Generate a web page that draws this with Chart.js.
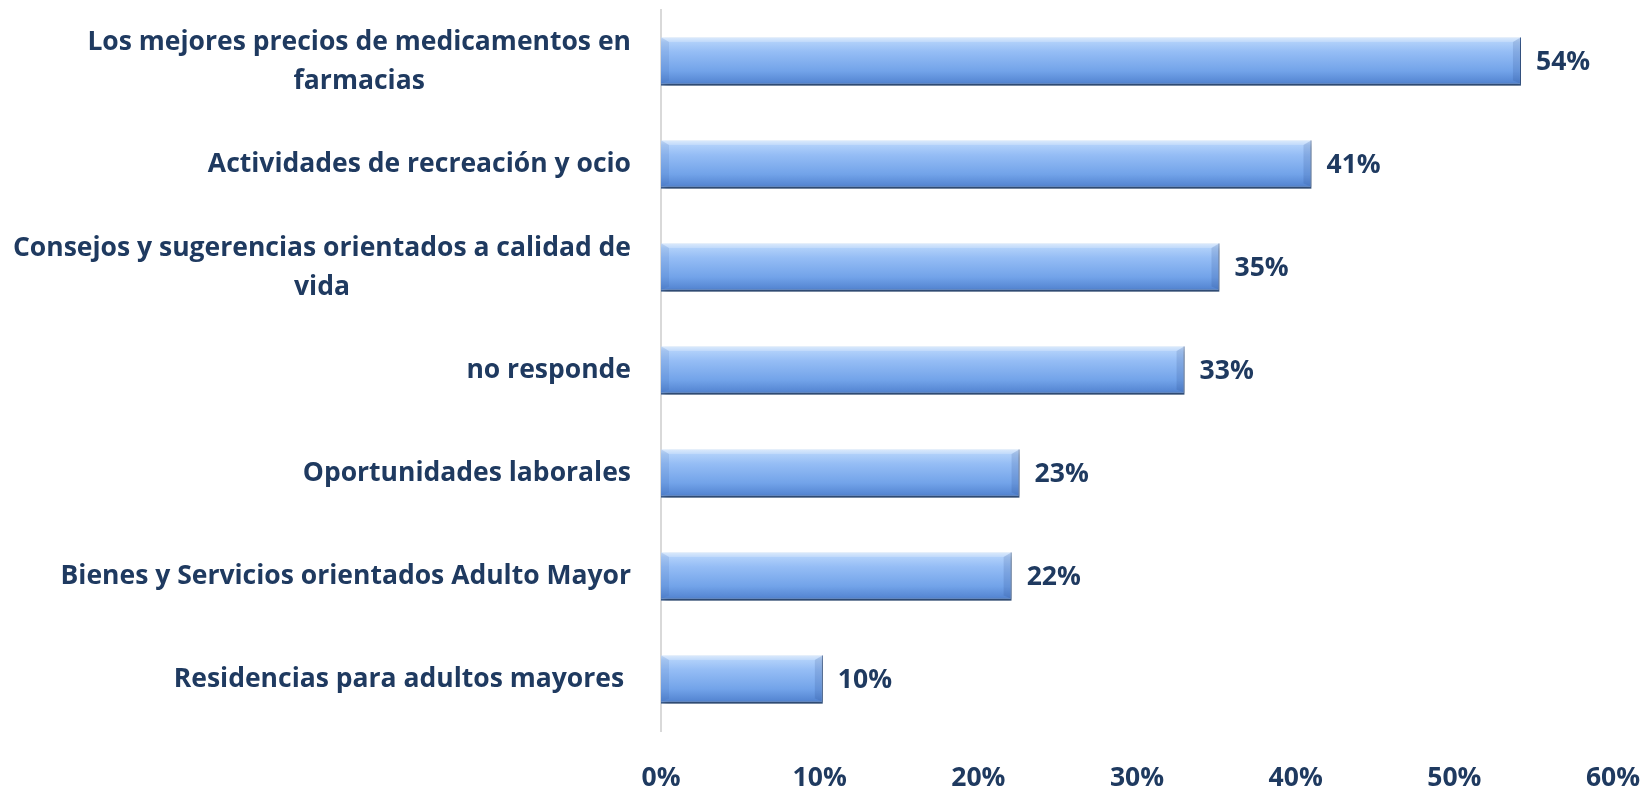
<!DOCTYPE html>
<html>
<head>
<meta charset="utf-8">
<script src="https://cdn.jsdelivr.net/npm/chart.js@4"></script>
<style>
  html, body { margin: 0; padding: 0; background: #fff; }
  #wrap { width: 1646px; height: 787px; }
</style>
</head>
<body>
<div id="wrap"><canvas id="myChart" width="1646" height="787"></canvas></div>
<script>
// categories (top to bottom), values in %
const categories = [
    ["Los mejores precios de medicamentos en", "farmacias"],
    ["Actividades de recreación y ocio"],
    ["Consejos y sugerencias orientados a calidad de", "vida"],
    ["no responde"],
    ["Oportunidades laborales"],
    ["Bienes y Servicios orientados Adulto Mayor"],
    ["Residencias para adultos mayores "]
];
const values = [54.2, 41.0, 35.2, 33.0, 22.6, 22.1, 10.2];
const xTicks = [0, 10, 20, 30, 40, 50, 60];

const textColor = '#1f3a60';
const fontFamily = "'Open Sans', sans-serif";
const fontSize = 26.5;
const barPct = 0.47;

// bar fill: vertical gradient, made per bar from the y scale
function barFill(context) {
    const chart = context.chart;
    const y = chart.scales.y;
    if (!y || !chart.chartArea || context.dataIndex === undefined) {
        return '#8db6f0';
    }
    const c = y.getPixelForValue(context.dataIndex);
    const half = (y.height / categories.length) * barPct / 2;
    const g = chart.ctx.createLinearGradient(0, c - half, 0, c + half);
    g.addColorStop(0, '#d3e5fc');
    g.addColorStop(0.1, '#b0d0fa');
    g.addColorStop(0.3, '#95bdf5');
    g.addColorStop(0.7, '#72a3e9');
    g.addColorStop(0.92, '#5788d4');
    g.addColorStop(1, '#4a76b8');
    return g;
}

// shadow under the bars
const barShadow = {
    id: 'barShadow',
    beforeDatasetsDraw(chart) {
        const ctx = chart.ctx;
        ctx.save();
        ctx.shadowColor = 'rgba(0,0,0,0.3)';
        ctx.shadowBlur = 6;
        ctx.shadowOffsetX = 2;
        ctx.shadowOffsetY = 4;
    },
    afterDatasetsDraw(chart) {
        chart.ctx.restore();
    }
};

// light bevel on the bar ends
const barBevel = {
    id: 'barBevel',
    afterDatasetsDraw(chart) {
        const ctx = chart.ctx;
        const meta = chart.getDatasetMeta(0);
        const b = 8;
        function face(pts, color) {
            ctx.beginPath();
            ctx.moveTo(pts[0][0], pts[0][1]);
            for (let i = 1; i < pts.length; i++) ctx.lineTo(pts[i][0], pts[i][1]);
            ctx.closePath();
            ctx.fillStyle = color;
            ctx.fill();
        }
        ctx.save();
        meta.data.forEach(function (bar) {
            const L = Math.min(bar.base, bar.x), R = Math.max(bar.base, bar.x);
            const T = bar.y - bar.height / 2, B = bar.y + bar.height / 2 - 2;
            face([[L, T], [R, T], [R - b, T + b * 0.6], [L + b, T + b * 0.6]], 'rgba(255,255,255,0.2)');
            face([[L, T], [L + b, T + b * 0.6], [L + b, B - b * 0.4], [L, B]], 'rgba(40,80,150,0.1)');
            face([[R, T], [R - b, T + b * 0.6], [R - b, B - b * 0.4], [R, B]], 'rgba(30,60,120,0.14)');
        });
        ctx.restore();
    }
};

// value labels at the end of each bar
const valueLabels = {
    id: 'valueLabels',
    afterDraw(chart) {
        const ctx = chart.ctx;
        const meta = chart.getDatasetMeta(0);
        ctx.save();
        ctx.font = 'bold ' + fontSize + 'px ' + fontFamily;
        ctx.fillStyle = textColor;
        ctx.textAlign = 'left';
        ctx.textBaseline = 'middle';
        meta.data.forEach(function (bar, i) {
            ctx.fillText(Math.round(values[i]) + '%', bar.x + 15, bar.y + 1);
        });
        ctx.restore();
    }
};

// category labels: block right aligned to the axis, lines centred in the block
const categoryLabels = {
    id: 'categoryLabels',
    afterDraw(chart) {
        const ctx = chart.ctx;
        const y = chart.scales.y;
        const lineH = 39;
        ctx.save();
        ctx.font = 'bold ' + fontSize + 'px ' + fontFamily;
        ctx.fillStyle = textColor;
        ctx.textAlign = 'center';
        ctx.textBaseline = 'middle';
        categories.forEach(function (lines, i) {
            const w = Math.max.apply(null, lines.map(l => ctx.measureText(l).width));
            const cx = y.right - 30 - w / 2;
            const cy = y.getPixelForValue(i);
            lines.forEach(function (l, k) {
                ctx.fillText(l, cx, cy + (k - (lines.length - 1) / 2) * lineH);
            });
        });
        ctx.restore();
    }
};

new Chart(document.getElementById('myChart'), {
    type: 'bar',
    data: {
        labels: categories.map(c => c.join(' ')),
        datasets: [{
            data: values,
            backgroundColor: barFill,
            borderColor: '#3f659c',
            borderWidth: { top: 0, left: 0, right: 1, bottom: 2 },
            borderSkipped: false,
            categoryPercentage: 1,
            barPercentage: barPct
        }]
    },
    options: {
        indexAxis: 'y',
        responsive: false,
        animation: false,
        layout: { padding: { left: 0, right: 33, top: 10, bottom: 0 } },
        plugins: {
            legend: { display: false },
            tooltip: { enabled: false }
        },
        scales: {
            x: {
                min: 0,
                max: 60,
                afterBuildTicks: function (scale) {
                    scale.ticks = xTicks.map(v => ({ value: v }));
                },
                afterFit: function (scale) {
                    scale.height = 56;
                    scale.paddingLeft = 0;
                    scale.paddingRight = 0;
                },
                grid: { display: false, drawTicks: false },
                border: { display: false },
                ticks: {
                    padding: 32,
                    color: textColor,
                    font: { family: fontFamily, size: fontSize, weight: 'bold' },
                    callback: v => v + '%'
                }
            },
            y: {
                afterFit: function (scale) { scale.width = 661; },
                grid: { display: false, drawTicks: false },
                border: { display: true, color: '#d9d9d9', width: 2 },
                ticks: { display: false }
            }
        }
    },
    plugins: [barShadow, barBevel, valueLabels, categoryLabels]
});
</script>
</body>
</html>
